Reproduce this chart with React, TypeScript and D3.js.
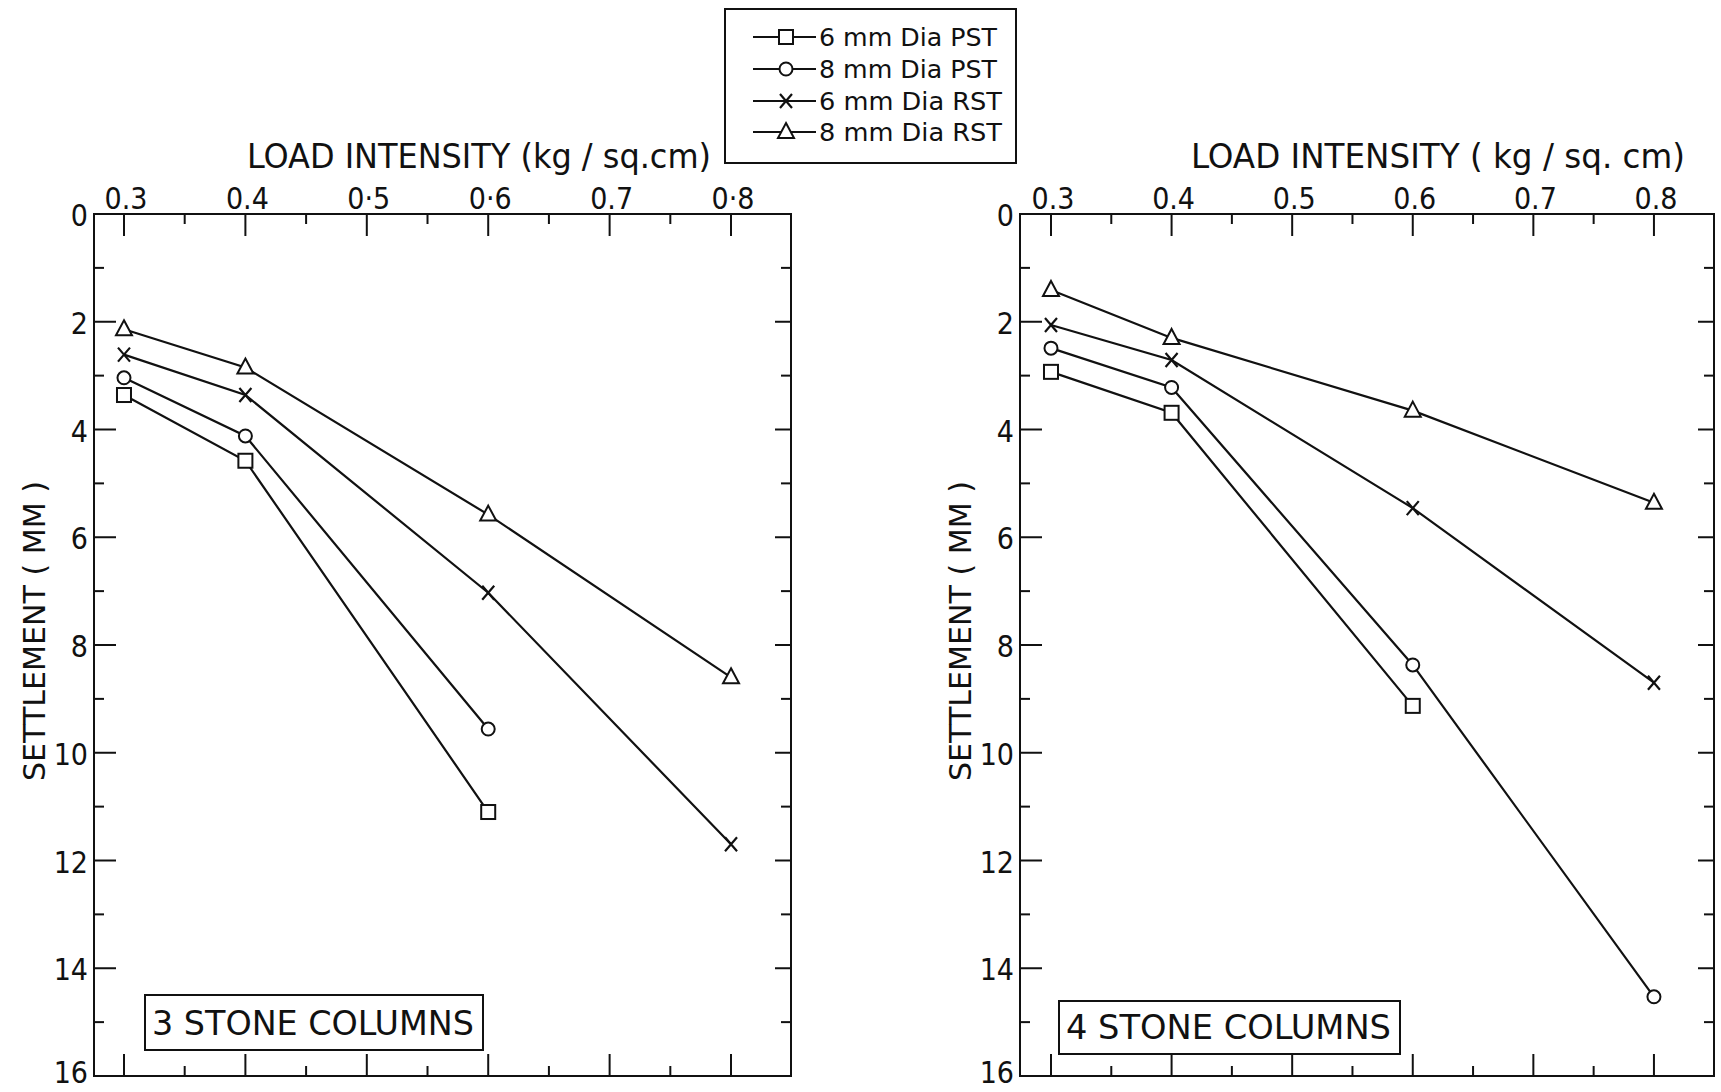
import React from "react";
import * as d3 from "d3";

// load intensity (kg/sq.cm) at which readings were taken
const loads = [0.3, 0.4, 0.6, 0.8];

// settlement (mm) - 3 stone columns
const pst6_3 = [3.36, 4.58, 11.1];
const pst8_3 = [3.04, 4.12, 9.56];
const rst6_3 = [2.61, 3.36, 7.03, 11.7];
const rst8_3 = [2.14, 2.85, 5.58, 8.6];

// settlement (mm) - 4 stone columns
const pst6_4 = [2.93, 3.69, 9.13];
const pst8_4 = [2.49, 3.22, 8.37, 14.53];
const rst6_4 = [2.06, 2.71, 5.46, 8.7];
const rst8_4 = [1.41, 2.3, 3.65, 5.36];

const seriesNames = ["6 mm Dia PST", "8 mm Dia PST", "6 mm Dia RST", "8 mm Dia RST"];
const markers = ["square", "circle", "cross", "triangle"];

const xMajor = [0.3, 0.4, 0.5, 0.6, 0.7, 0.8];
const xMinor = [0.35, 0.45, 0.55, 0.65, 0.75];
const xLabelsLeft = ["0.3", "0.4", "0·5", "0·6", "0.7", "0·8"];
const xLabelsRight = ["0.3", "0.4", "0.5", "0.6", "0.7", "0.8"];
const yMajor = [0, 2, 4, 6, 8, 10, 12, 14, 16];
const yMinor = [1, 3, 5, 7, 9, 11, 13, 15];

const FONT = "'DejaVu Sans Condensed', 'DejaVu Sans', sans-serif";
const INK = "#111";

function Marker({ kind, x, y }: { kind: string; x: number; y: number }) {
  const s = 7;
  if (kind === "square")
    return <rect x={x - s} y={y - s} width={2 * s} height={2 * s} fill="white" stroke={INK} strokeWidth={2} />;
  if (kind === "circle") return <circle cx={x} cy={y} r={6.5} fill="white" stroke={INK} strokeWidth={2} />;
  if (kind === "cross")
    return (
      <path
        d={`M${x - 6},${y - 7}L${x + 6},${y + 7}M${x + 6},${y - 7}L${x - 6},${y + 7}`}
        stroke={INK}
        strokeWidth={2.2}
        fill="none"
      />
    );
  return (
    <path
      d={`M${x},${y - 9}L${x + 8},${y + 6}L${x - 8},${y + 6}Z`}
      fill="white"
      stroke={INK}
      strokeWidth={2}
    />
  );
}

function Panel(props: {
  left: number;
  right: number;
  top: number;
  bottom: number;
  xDomain: [number, number];
  data: number[][];
  xLabels: string[];
  title: string;
  titleX: number;
  titleLen: number;
  yLabelX: number;
  boxText: string;
  box: { x: number; y: number; w: number; h: number };
}) {
  const { left, right, top, bottom, data } = props;
  const x = d3.scaleLinear().domain(props.xDomain).range([left, right]);
  const y = d3.scaleLinear().domain([0, 16]).range([top, bottom]);
  const line = d3
    .line<[number, number]>()
    .x((d) => x(d[0]))
    .y((d) => y(d[1]));

  return (
    <g>
      <rect x={left} y={top} width={right - left} height={bottom - top} fill="none" stroke={INK} strokeWidth={2} />
      {/* x ticks, top and bottom, pointing inward */}
      {xMajor.map((v) => (
        <g key={"xM" + v}>
          <line x1={x(v)} x2={x(v)} y1={top} y2={top + 22} stroke={INK} strokeWidth={2} />
          <line x1={x(v)} x2={x(v)} y1={bottom} y2={bottom - 22} stroke={INK} strokeWidth={2} />
        </g>
      ))}
      {xMinor.map((v) => (
        <g key={"xm" + v}>
          <line x1={x(v)} x2={x(v)} y1={top} y2={top + 10} stroke={INK} strokeWidth={2} />
          <line x1={x(v)} x2={x(v)} y1={bottom} y2={bottom - 10} stroke={INK} strokeWidth={2} />
        </g>
      ))}
      {yMajor.slice(1, -1).map((v) => (
        <g key={"yM" + v}>
          <line x1={left} x2={left + 22} y1={y(v)} y2={y(v)} stroke={INK} strokeWidth={2} />
          <line x1={right} x2={right - 16} y1={y(v)} y2={y(v)} stroke={INK} strokeWidth={2} />
        </g>
      ))}
      {yMinor.map((v) => (
        <g key={"ym" + v}>
          <line x1={left} x2={left + 10} y1={y(v)} y2={y(v)} stroke={INK} strokeWidth={2} />
          <line x1={right} x2={right - 10} y1={y(v)} y2={y(v)} stroke={INK} strokeWidth={2} />
        </g>
      ))}
      {/* tick labels */}
      {xMajor.map((v, i) => (
        <text key={"xl" + v} x={x(v) + 2} y={top - 5} fontSize={30} fontFamily={FONT} textAnchor="middle" fill={INK}>
          {props.xLabels[i]}
        </text>
      ))}
      {yMajor.map((v) => (
        <text
          key={"yl" + v}
          x={left - 6}
          y={Math.min(y(v) + 12, 1083)}
          fontSize={30}
          fontFamily={FONT}
          textAnchor="end"
          fill={INK}
        >
          {v}
        </text>
      ))}
      {/* axis titles */}
      <text
        x={props.titleX}
        y={168}
        fontSize={34}
        fontFamily={FONT}
        textAnchor="middle"
        textLength={props.titleLen}
        lengthAdjust="spacingAndGlyphs"
        fill={INK}
      >
        {props.title}
      </text>
      <text
        transform={`translate(${props.yLabelX},631) rotate(-90)`}
        fontSize={30}
        fontFamily={FONT}
        textAnchor="middle"
        textLength={300}
        lengthAdjust="spacingAndGlyphs"
        fill={INK}
      >
        SETTLEMENT ( MM )
      </text>
      {/* series */}
      {data.map((vals, si) => {
        const pts = vals.map((v, i) => [loads[i], v] as [number, number]);
        return (
          <g key={"s" + si}>
            <path d={line(pts) || ""} fill="none" stroke={INK} strokeWidth={2.2} />
            {pts.map((p, i) => (
              <Marker key={i} kind={markers[si]} x={x(p[0])} y={y(p[1])} />
            ))}
          </g>
        );
      })}
      {/* label box */}
      <rect
        x={props.box.x}
        y={props.box.y}
        width={props.box.w}
        height={props.box.h}
        fill="white"
        stroke={INK}
        strokeWidth={2}
      />
      <text
        x={props.box.x + 7}
        y={props.box.y + props.box.h - 15}
        fontSize={33}
        fontFamily={FONT}
        textLength={props.box.w - 16}
        lengthAdjust="spacingAndGlyphs"
        fill={INK}
      >
        {props.boxText}
      </text>
    </g>
  );
}

function Legend() {
  const rows = [37, 69, 101, 132];
  return (
    <g>
      <rect x={725} y={9} width={291} height={154} fill="white" stroke={INK} strokeWidth={2} />
      {seriesNames.map((name, i) => (
        <g key={name}>
          <line x1={753} x2={816} y1={rows[i]} y2={rows[i]} stroke={INK} strokeWidth={2.2} />
          <Marker kind={markers[i]} x={786} y={rows[i]} />
          <text
            x={819}
            y={rows[i] + 9}
            fontSize={25}
            fontFamily={FONT}
            textLength={i < 2 ? 178 : 183}
            lengthAdjust="spacingAndGlyphs"
            fill={INK}
          >
            {name}
          </text>
        </g>
      ))}
    </g>
  );
}

export default function App() {
  return (
    <svg
      width={1721}
      height={1092}
      style={{ position: "absolute", left: 0, top: 0, background: "white" }}
    >
      <rect width={1721} height={1092} fill="white" />
      <Panel
        left={94}
        right={791}
        top={214}
        bottom={1076}
        xDomain={[0.2753, 0.8494]}
        data={[pst6_3, pst8_3, rst6_3, rst8_3]}
        xLabels={xLabelsLeft}
        title="LOAD INTENSITY (kg / sq.cm)"
        titleX={479}
        titleLen={464}
        yLabelX={45}
        boxText="3 STONE COLUMNS"
        box={{ x: 145, y: 995, w: 338, h: 55 }}
      />
      <Panel
        left={1020}
        right={1714}
        top={214}
        bottom={1076}
        xDomain={[0.2743, 0.8498]}
        data={[pst6_4, pst8_4, rst6_4, rst8_4]}
        xLabels={xLabelsRight}
        title="LOAD INTENSITY ( kg / sq. cm)"
        titleX={1438}
        titleLen={494}
        yLabelX={971}
        boxText="4 STONE COLUMNS"
        box={{ x: 1059, y: 1001, w: 341, h: 53 }}
      />
      <Legend />
    </svg>
  );
}
